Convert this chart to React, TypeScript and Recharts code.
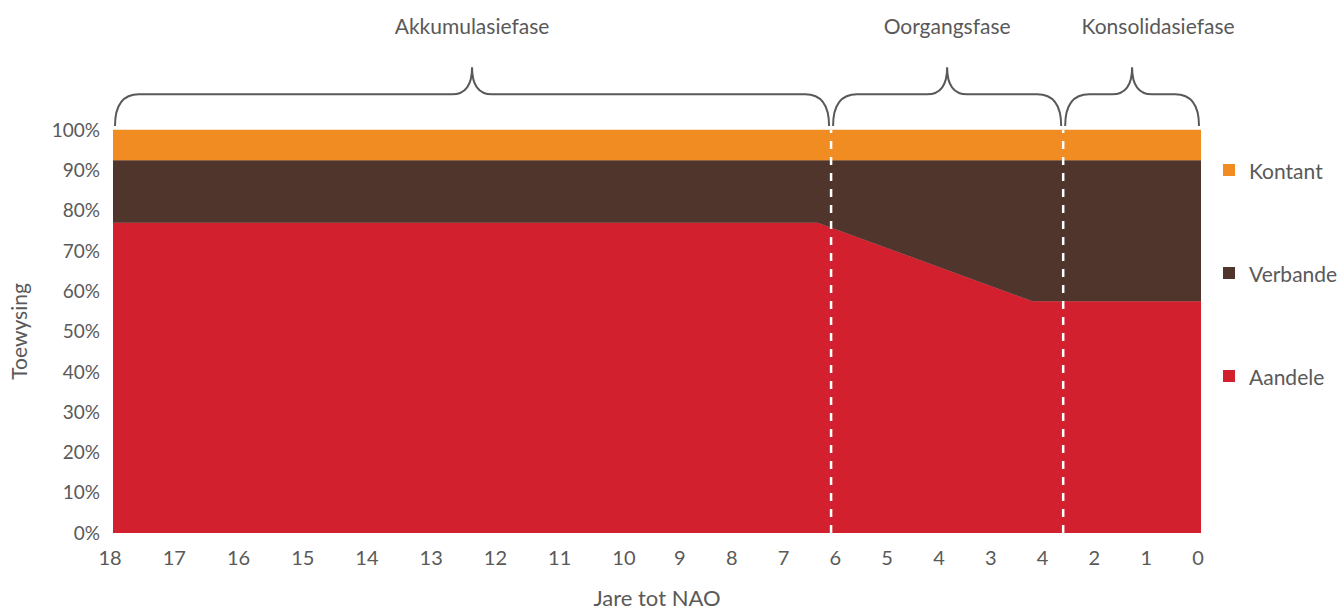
import { AreaChart, Area, XAxis, YAxis, ReferenceLine, ReferenceArea, Legend } from "recharts";

// x axis: label text and its slot on a numeric axis (early years are spaced wider)
const tickLabels = ['18', '17', '16', '15', '14', '13', '12', '11', '10', '9', '8', '7', '6', '5', '4', '3', '4', '2', '1', '0'];
const tickSlots = [0, 1.24, 2.48, 3.72, 4.96, 6.2, 7.44, 8.68, 9.92, 11, 12, 13, 14, 15, 16, 17, 18, 19, 20, 21];
const yTicks = [0, 10, 20, 30, 40, 50, 60, 70, 80, 90, 100];

// allocation breakpoints
const slots = [0, 13.6, 17.75, 21];
const aandele = [77, 77, 57.5, 57.5];
const verbande = [15.5, 15.5, 35, 35];
const kontant = [7.5, 7.5, 7.5, 7.5];

const seriesNames = ['Aandele', 'Verbande', 'Kontant'];
const seriesColors = ['#D2202F', '#4F352B', '#F08C22'];

const phaseNames = ['Akkumulasiefase', 'Oorgangsfase', 'Konsolidasiefase'];
const phaseEdges = [0, 13.86, 18.34, 21];

const data = slots.map((slot, i) => ({
  slot,
  Aandele: aandele[i],
  Verbande: verbande[i],
  Kontant: kontant[i],
}));

const FONT = "Lato, 'Open Sans', sans-serif";
const GREY = '#595959';

function brace(props: any, name: string, shift: number) {
  const { x, y, width, height } = props;
  const x0 = x + 2;
  const x1 = x + width - 2;
  const mid = (x0 + x1) / 2;
  const tip = y;
  const end = y + height;
  const bar = y + height * 0.46;
  const d = `M ${x0} ${end} Q ${x0} ${bar} ${x0 + 24} ${bar} L ${mid - 20} ${bar} Q ${mid} ${bar} ${mid} ${tip} Q ${mid} ${bar} ${mid + 20} ${bar} L ${x1 - 24} ${bar} Q ${x1} ${bar} ${x1} ${end}`;
  return (
    <g>
      <path d={d} fill="none" stroke={GREY} strokeWidth={2} />
      <text x={mid + shift} y={tip - 33} textAnchor="middle" fill={GREY} fontSize={21} fontFamily={FONT}>
        {name}
      </text>
    </g>
  );
}

function LegendBox() {
  const order = [2, 1, 0];
  return (
    <div style={{ width: 121, fontFamily: FONT, fontSize: 21, color: GREY }}>
      {order.map((i) => (
        <div key={seriesNames[i]} style={{ display: 'flex', alignItems: 'center', height: 24, marginBottom: 79 }}>
          <span style={{ width: 12, height: 12, background: seriesColors[i], marginLeft: 1, marginRight: 14 }} />
          <span>{seriesNames[i]}</span>
        </div>
      ))}
    </div>
  );
}

export default function App() {
  return (
    <div style={{ position: 'absolute', left: 0, top: 0 }}>
      <AreaChart width={1343} height={610} data={data} margin={{ top: 130, right: 21, bottom: 0, left: 0 }}>
        <XAxis
          dataKey="slot"
          type="number"
          domain={[0, 21]}
          ticks={tickSlots}
          interval={0}
          tickFormatter={(v: number) => tickLabels[tickSlots.indexOf(v)]}
          axisLine={false}
          tickLine={false}
          tickSize={0}
          tickMargin={18}
          height={77}
          tick={{ fill: GREY, fontSize: 20, fontFamily: FONT, dx: -3 }}
          label={{ value: 'Jare tot NAO', position: 'insideBottom', offset: 4, fill: GREY, fontSize: 22, fontFamily: FONT }}
        />
        <YAxis
          domain={[0, 100]}
          ticks={yTicks}
          interval={0}
          tickFormatter={(v: number) => `${v}%`}
          axisLine={false}
          tickLine={false}
          tickSize={0}
          tickMargin={13}
          width={113}
          tick={{ fill: GREY, fontSize: 19, fontFamily: FONT }}
          label={{ value: 'Toewysing', angle: -90, position: 'insideLeft', offset: 20, fill: GREY, fontSize: 21, fontFamily: FONT, style: { textAnchor: 'middle' } }}
        />
        <Legend layout="vertical" align="right" verticalAlign="top" wrapperStyle={{ left: 1222, top: 158 }} content={() => <LegendBox />} />
        {seriesNames.map((name, i) => (
          <Area
            key={name}
            type="linear"
            dataKey={name}
            stackId="alloc"
            stroke={seriesColors[i]}
            strokeWidth={0.5}
            fill={seriesColors[i]}
            fillOpacity={1}
            isAnimationActive={false}
          />
        ))}
        {phaseEdges.slice(1, -1).map((x) => (
          <ReferenceLine key={x} x={x} stroke="#ffffff" strokeWidth={2.5} strokeDasharray="8 8" />
        ))}
        {phaseNames.map((name, i) => (
          <ReferenceArea
            key={name}
            x1={phaseEdges[i]}
            x2={phaseEdges[i + 1]}
            y1={101}
            y2={115.6}
            ifOverflow="visible"
            shape={(p: any) => brace(p, name, i === phaseNames.length - 1 ? 26 : 0)}
          />
        ))}
      </AreaChart>
    </div>
  );
}
